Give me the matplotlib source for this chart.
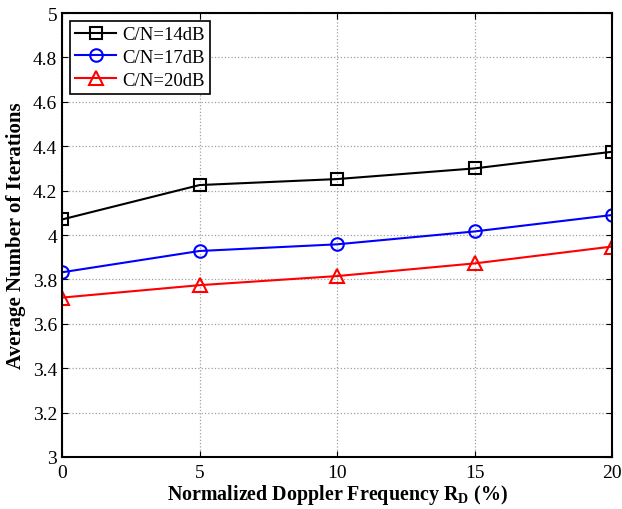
import matplotlib
matplotlib.use("Agg")
import matplotlib.pyplot as plt

# Doppler frequency (%) and average iterations for each C/N
doppler = [0, 5, 10, 15, 20]
iters_14db = [4.07, 4.225, 4.252, 4.30, 4.375]
iters_17db = [3.832, 3.928, 3.958, 4.016, 4.09]
iters_20db = [3.718, 3.774, 3.815, 3.872, 3.948]

labels = ["C/N=14dB", "C/N=17dB", "C/N=20dB"]
x_ticks = [0, 5, 10, 15, 20]
y_ticks = [3, 3.2, 3.4, 3.6, 3.8, 4, 4.2, 4.4, 4.6, 4.8, 5]

plt.rcParams['font.family'] = ['Liberation Serif', 'DejaVu Serif']
plt.rcParams['mathtext.fontset'] = 'custom'
plt.rcParams['mathtext.rm'] = 'Liberation Serif'
plt.rcParams['mathtext.bf'] = 'Liberation Serif:bold'

fig = plt.figure(figsize=(6.22, 5.10), dpi=100)
ax = fig.add_axes([0.0997, 0.102, 0.8843, 0.8705])

ax.plot(doppler, iters_14db, 'k-s', lw=1.5, ms=9, mfc='none', mew=1.5, label=labels[0])
ax.plot(doppler, iters_17db, 'b-o', lw=1.5, ms=9, mfc='none', mew=1.5, label=labels[1])
ax.plot(doppler, iters_20db, 'r-^', lw=1.5, ms=10, mfc='none', mew=1.5, label=labels[2])

ax.set_xlim(0, 20)
ax.set_ylim(3, 5)
ax.set_xticks(x_ticks)
ax.set_yticks(y_ticks)
ax.set_yticklabels([f"{v:g}" for v in y_ticks])
ax.tick_params(direction='in', top=True, right=True, labelsize=14, length=4)
ax.tick_params(axis='x', pad=5)
ax.grid(True, color='#a0a0a0', linestyle=':', linewidth=0.9)
for s in ax.spines.values():
    s.set_linewidth(1.5)

ax.set_xlabel(r'Normalized Doppler Frequency R$_\mathbf{D}$ (%)', fontsize=14.4, fontweight='bold', labelpad=1)
ax.set_ylabel('Average Number of Iterations', fontsize=15, fontweight='bold', labelpad=5)

leg = ax.legend(loc='upper left', fontsize=13.5, fancybox=False, framealpha=1,
                edgecolor='black', borderaxespad=0.4, handlelength=2.2,
                borderpad=0.3, labelspacing=0.3, handletextpad=0.3)
leg.get_frame().set_linewidth(1.2)

fig.savefig('out.png', dpi=100)
